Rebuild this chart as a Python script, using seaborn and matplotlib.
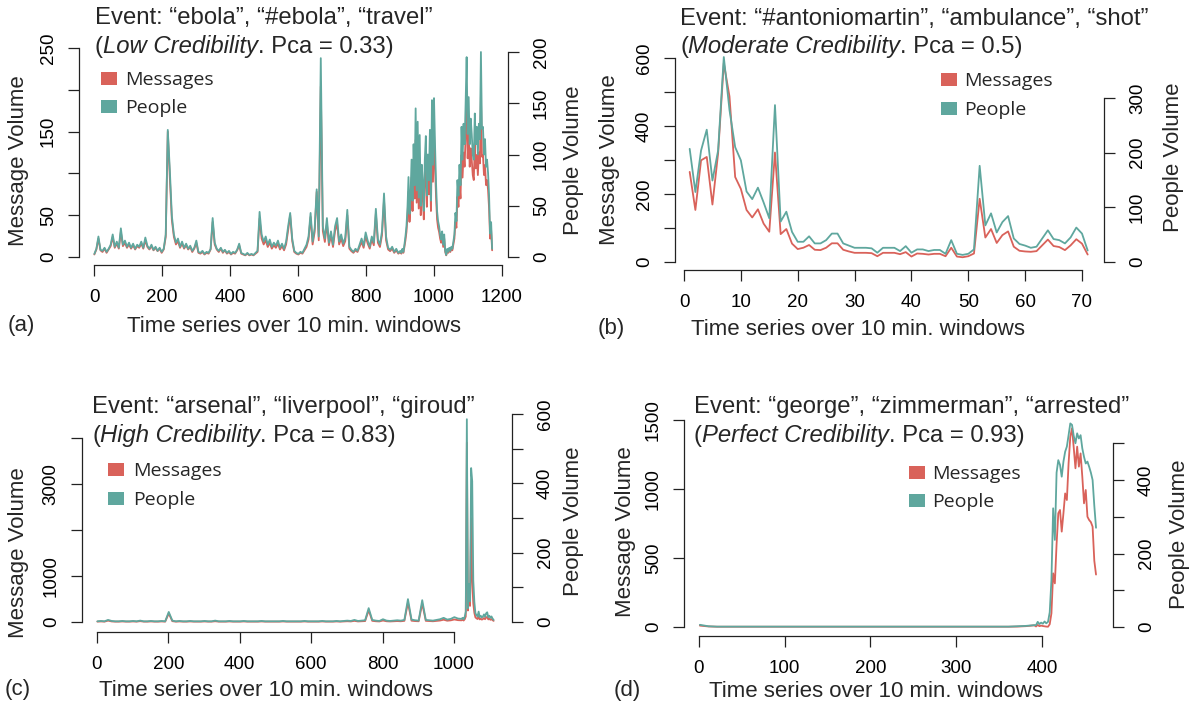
import numpy as np
import matplotlib
matplotlib.use("Agg")
import matplotlib.pyplot as plt
import seaborn as sns
from matplotlib.patches import Rectangle

# ---------------- data ----------------
series_labels = ["Messages", "People"]

# (a) ebola — one reading every 6 windows up to 901, then every 3 windows
a_time = list(range(1, 902, 6)) + list(range(904, 1172, 3))
a_people = [3, 8, 20, 7, 6, 9, 5, 8, 12, 22,
            10, 15, 9, 28, 12, 16, 10, 14, 9, 13,
            8, 12, 10, 15, 9, 19, 11, 8, 12, 7,
            10, 6, 9, 5, 8, 22, 124, 85, 40, 22,
            14, 18, 10, 15, 9, 13, 8, 11, 6, 9,
            16, 5, 4, 6, 3, 5, 4, 8, 38, 14,
            8, 6, 9, 5, 7, 4, 6, 3, 5, 4,
            7, 13, 4, 3, 2, 4, 2, 3, 2, 4,
            6, 44, 22, 15, 20, 12, 17, 10, 14, 11,
            16, 9, 13, 8, 15, 30, 43, 18, 6, 4,
            3, 5, 4, 8, 12, 20, 43, 15, 28, 66,
            20, 194, 30, 18, 38, 14, 25, 12, 30, 38,
            15, 22, 13, 19, 46, 10, 7, 5, 8, 6,
            12, 18, 11, 24, 16, 10, 20, 14, 47, 17,
            12, 25, 62, 20, 9, 7, 10, 5, 8, 4,
            6,
            4, 8, 5, 12, 20, 30, 48, 78, 42, 60,
            95, 55, 110, 70, 145, 65, 132, 58, 119, 50,
            90, 72, 45, 95, 118, 60, 100, 75, 124, 55,
            153, 90, 155, 110, 72, 45, 35, 30, 22, 17,
            25, 12, 22, 6, 2, 8, 5, 9, 6, 10,
            8, 15, 22, 43, 35, 75, 60, 90, 70, 127,
            95, 130, 110, 150, 195, 120, 156, 110, 135, 120,
            100, 95, 140, 110, 127, 100, 130, 115, 200, 125,
            127, 100, 115, 88, 95, 82, 60, 23, 34, 8]
a_messages = [3, 9, 22, 8, 6, 10, 5, 9, 13, 24,
              11, 16, 10, 30, 13, 17, 11, 15, 10, 14,
              9, 13, 11, 16, 10, 20, 12, 9, 13, 8,
              11, 7, 10, 5, 9, 24, 150, 95, 44, 24,
              15, 19, 11, 16, 10, 14, 9, 12, 6, 10,
              17, 5, 4, 6, 3, 5, 4, 9, 42, 15,
              9, 6, 10, 5, 8, 4, 6, 3, 5, 4,
              8, 14, 4, 3, 2, 4, 2, 3, 2, 4,
              6, 46, 22, 15, 20, 12, 17, 10, 14, 11,
              16, 9, 13, 8, 15, 32, 50, 19, 6, 4,
              3, 5, 4, 8, 12, 21, 48, 15, 30, 78,
              20, 204, 31, 18, 40, 14, 26, 12, 31, 40,
              15, 22, 13, 19, 50, 10, 7, 5, 8, 6,
              12, 18, 11, 25, 16, 10, 21, 14, 52, 17,
              12, 26, 68, 20, 9, 7, 10, 5, 8, 4,
              6,
              4, 8, 5, 12, 20, 30, 48, 78, 42, 60,
              95, 55, 110, 70, 140, 65, 128, 58, 115, 50,
              90, 72, 45, 95, 115, 60, 100, 75, 120, 55,
              148, 90, 150, 108, 72, 45, 35, 30, 22, 17,
              25, 12, 22, 6, 2, 8, 5, 9, 6, 10,
              8, 15, 22, 42, 35, 72, 60, 88, 70, 122,
              95, 125, 108, 145, 190, 118, 150, 108, 130, 116,
              98, 92, 135, 106, 122, 98, 125, 112, 195, 120,
              122, 98, 110, 86, 92, 80, 58, 22, 32, 8]

# (b) antoniomartin — every window
b_time = list(range(1, 72))
b_messages = [265, 153, 299, 309, 169, 320, 585, 487, 250, 215,
              153, 131, 155, 113, 89, 322, 82, 97, 54, 38,
              42, 50, 36, 35, 42, 55, 55, 36, 31, 27,
              27, 27, 26, 17, 27, 27, 27, 23, 29, 16,
              25, 24, 22, 24, 24, 17, 42, 16, 14, 17,
              25, 186, 72, 97, 56, 79, 90, 45, 33, 31,
              30, 32, 49, 66, 47, 44, 35, 49, 67, 54, 22]
b_people = [207, 128, 204, 242, 149, 204, 375, 278, 210, 186,
            129, 115, 136, 109, 80, 287, 74, 92, 55, 37,
            37, 47, 34, 34, 40, 52, 52, 34, 30, 26,
            26, 26, 25, 17, 26, 26, 26, 20, 29, 17,
            23, 23, 20, 22, 22, 15, 40, 15, 13, 15,
            23, 176, 67, 89, 54, 73, 84, 43, 33, 30,
            26, 28, 43, 58, 42, 40, 34, 45, 63, 52, 21]

# (c) arsenal — every 10 windows, then every 3 windows around the event
c_time = list(range(1, 1021, 10)) + list(range(1021, 1112, 3))
c_people = [2, 3, 2, 6, 3, 2, 2, 3, 2, 2,
            3, 2, 4, 2, 2, 3, 2, 2, 3, 2,
            29, 4, 2, 3, 2, 2, 3, 2, 2, 2,
            3, 2, 2, 4, 2, 2, 2, 3, 2, 2,
            2, 3, 2, 2, 2, 2, 3, 2, 2, 2,
            2, 2, 3, 2, 2, 2, 2, 2, 3, 2,
            2, 2, 2, 3, 2, 2, 2, 3, 2, 3,
            4, 3, 6, 3, 4, 5, 40, 6, 4, 3,
            8, 4, 3, 4, 5, 4, 6, 66, 7, 5,
            4, 63, 6, 5, 4, 6, 8, 12, 7, 9, 14, 10,
            9, 12, 8, 15, 30, 585, 40, 110, 60, 444,
            406, 120, 58, 25, 20, 16, 30, 14, 18, 13,
            16, 22, 15, 25, 28, 14, 18, 12, 16, 10, 6]
c_messages = [8, 12, 8, 30, 12, 8, 8, 12, 8, 8,
              12, 8, 18, 8, 8, 12, 8, 8, 12, 8,
              185, 18, 8, 12, 8, 8, 12, 8, 8, 8,
              12, 8, 8, 16, 8, 8, 8, 12, 8, 8,
              8, 12, 8, 8, 8, 8, 12, 8, 8, 8,
              8, 8, 12, 8, 8, 8, 8, 8, 12, 8,
              8, 8, 8, 12, 8, 8, 8, 12, 8, 12,
              16, 12, 25, 12, 16, 20, 255, 25, 16, 12,
              32, 16, 12, 16, 20, 16, 25, 420, 28, 20,
              16, 400, 25, 20, 16, 25, 32, 50, 28, 36, 55, 40,
              36, 48, 32, 60, 120, 3900, 250, 600, 350, 2260,
              870, 400, 200, 100, 80, 64, 120, 56, 72, 52,
              64, 88, 60, 100, 110, 56, 72, 48, 64, 40, 24]

# (d) zimmerman — every 10 windows, then every 2 windows around the event
d_time = list(range(1, 392, 10)) + list(range(393, 464, 2))
d_people = [6, 2, 1, 1, 1, 1, 1, 1, 1, 1,
            1, 1, 1, 1, 1, 1, 1, 1, 1, 1,
            1, 1, 1, 1, 1, 1, 1, 1, 1, 1,
            1, 1, 1, 1, 1, 1, 1, 2, 3, 5,
            5, 14, 8, 12, 9, 15, 10, 14, 40, 128,
            323, 237, 420, 454, 441, 409, 450, 477, 491, 522,
            554, 550, 520, 500, 527, 513, 522, 486, 463, 445,
            450, 436, 420, 400, 330, 270]
d_messages = [10, 4, 2, 2, 2, 2, 2, 2, 2, 2,
              2, 2, 2, 2, 2, 2, 2, 2, 2, 2,
              2, 2, 2, 2, 2, 2, 2, 2, 2, 2,
              2, 2, 2, 2, 2, 2, 2, 3, 6, 12,
              4, 15, 6, 10, 7, 5, 3, 2, 20, 99,
              389, 316, 600, 824, 848, 691, 824, 968, 920, 1186,
              1379, 1440, 1300, 1150, 1307, 1162, 1258, 1089, 896, 993,
              799, 775, 760, 727, 480, 380]

# ---------------- style ----------------
W, H = 1196, 706
RED = "#D9625A"
TEAL = "#5FA79E"
INK = "#222222"
LW = 1.3
TITLE_FS = 17.2

sns.set_theme(style="white")
plt.rcParams['font.family'] = ['Liberation Sans', 'DejaVu Sans']

fig = plt.figure(figsize=(W / 100, H / 100), dpi=100)
fig.patch.set_facecolor("white")
renderer = fig.canvas.get_renderer()


def fxy(x, y):
    return x / W, 1 - y / H


def panel(L, R, T, B, xcal, lcal, rcal, xticks, lticks, llabs, rticks, rlabs,
          t, msgs, ppl):
    ax = fig.add_axes([L / W, 1 - B / H, (R - L) / W, (B - T) / H])
    sns.lineplot(x=t, y=msgs, ax=ax, color=RED, linewidth=LW)
    ax2 = ax.twinx()
    sns.lineplot(x=t, y=ppl, ax=ax2, color=TEAL, linewidth=LW)

    (v0, p0), (v1, p1) = xcal
    s = (p1 - p0) / (v1 - v0)
    ax.set_xlim(v0 - (p0 - L) / s, v0 + (R - p0) / s)

    def ylim(cal):
        (z, pz), (V, pV) = cal
        sc = (pz - pV) / (V - z)
        return (z - (B - pz) / sc, z + (pz - T) / sc)

    ax.set_ylim(*ylim(lcal))
    ax2.set_ylim(*ylim(rcal))

    ax.set_xticks(xticks, labels=[str(v) for v in xticks])
    ax.set_yticks(lticks, labels=llabs)
    ax2.set_yticks(rticks, labels=rlabs)
    for a in (ax, ax2):
        a.set_xlabel("")
        a.set_ylabel("")
        a.grid(False)
        for sp in a.spines.values():
            sp.set_visible(False)
            sp.set_color(INK)
            sp.set_linewidth(0.9)
    ax.spines["left"].set_visible(True)
    ax.spines["bottom"].set_visible(True)
    ax2.spines["right"].set_visible(True)
    ax.spines["left"].set_bounds(lticks[0], lticks[-1])
    ax.spines["bottom"].set_bounds(xticks[0], xticks[-1])
    ax2.spines["right"].set_bounds(rticks[0], rticks[-1])

    ax.tick_params(axis="x", bottom=True, direction="out", length=8, width=0.9,
                   colors=INK, labelcolor="black", labelsize=13.5, pad=9)
    ax.tick_params(axis="y", left=True, direction="out", length=8, width=0.9,
                   colors=INK, labelcolor="black", labelsize=13.5, pad=8)
    ax2.tick_params(axis="y", right=True, direction="out", length=8, width=0.9,
                    colors=INK, labelcolor="black", labelsize=13.5, pad=10)
    for lbl in ax.get_yticklabels() + ax2.get_yticklabels():
        lbl.set_rotation(90)
        lbl.set_va("center")
    return ax, ax2


def title(x, y1, y2, line1, italic, rest):
    fig.text(*fxy(x, y1), line1, fontsize=TITLE_FS, va="baseline", ha="left")
    cx = x
    for txt, style in (("(", "normal"), (italic, "italic"), (rest, "normal")):
        tt = fig.text(*fxy(cx, y2), txt, fontsize=TITLE_FS, va="baseline",
                      ha="left", style=style)
        cx += tt.get_window_extent(renderer).width


def legend(x, ytop, dy, tx):
    for k, (lab, col) in enumerate(zip(series_labels, [RED, TEAL])):
        yt = ytop + k * dy
        fig.add_artist(Rectangle(fxy(x, yt + 13), 16 / W, 13 / H,
                                 transform=fig.transFigure, color=col, lw=0))
        fig.text(*fxy(tx, yt + 13), lab, fontsize=14, va="baseline", ha="left",
                 family=["Open Sans", "DejaVu Sans"])


def labels(msg_xy, ppl_xy, xl_xy, tag_xy, tag):
    fig.text(*fxy(*msg_xy), "Message Volume", rotation=90, fontsize=16,
             ha="center", va="center")
    fig.text(*fxy(*ppl_xy), "People Volume", rotation=90, fontsize=16,
             ha="center", va="center")
    fig.text(*fxy(*xl_xy), "Time series over 10 min. windows", fontsize=16,
             ha="center", va="baseline")
    fig.text(*fxy(*tag_xy), tag, fontsize=16, ha="left", va="baseline")


# (a)
panel(79, 508, 40, 265, ((0, 94), (1200, 502)), ((0, 257), (250, 48)),
      ((0, 257), (200, 52)), list(range(0, 1201, 200)),
      [0, 50, 100, 150, 200, 250], ["0", "50", "", "150", "", "250"],
      [0, 50, 100, 150, 200], ["0", "50", "100", "150", "200"],
      a_time, a_messages, a_people)
title(95, 24, 53, "Event: \u201cebola\u201d, \u201c#ebola\u201d, \u201ctravel\u201d",
      "Low Credibility", ". Pca = 0.33)")
legend(101, 72, 28, 125)
labels((19, 161), (573, 160), (294, 332), (8, 331), "(a)")

# (b)
panel(675, 1104, 40, 270, ((0, 684), (70, 1082)), ((0, 262), (600, 58)),
      ((0, 262), (300, 98)), list(range(0, 71, 10)),
      [0, 100, 200, 300, 400, 500, 600], ["0", "", "200", "", "400", "", "600"],
      [0, 100, 200, 300], ["0", "100", "200", "300"],
      b_time, b_messages, b_people)
title(680, 25, 53, "Event: \u201c#antoniomartin\u201d, \u201cambulance\u201d, \u201cshot\u201d",
      "Moderate Credibility", ". Pca = 0.5)")
legend(941, 73, 29, 964)
labels((610, 160), (1173, 157), (858, 335), (598, 334), "(b)")

# (c)
panel(82, 512, 400, 632, ((0, 97), (1000, 454)), ((0, 622), (3000, 484)),
      ((0, 622), (600, 414)), list(range(0, 1001, 200)),
      [0, 1000, 2000, 3000, 4000], ["0", "1000", "", "3000", ""],
      [0, 100, 200, 300, 400, 500, 600], ["0", "", "200", "", "400", "", "600"],
      c_time, c_messages, c_people)
title(92, 413, 442, "Event: \u201carsenal\u201d, \u201cliverpool\u201d, \u201cgiroud\u201d",
      "High Credibility", ". Pca = 0.83)")
legend(108, 463, 29, 133)
labels((19, 553), (573, 521), (266, 696), (5, 695), "(c)")

# (d)
panel(684, 1113, 400, 636, ((0, 699), (400, 1042)), ((0, 627), (1500, 420)),
      ((0, 627), (400, 480)), list(range(0, 401, 100)),
      [0, 500, 1000, 1500], ["0", "500", "1000", "1500"],
      [0, 100, 200, 300, 400, 500], ["0", "", "200", "", "400", ""],
      d_time, d_messages, d_people)
title(694, 413, 442, "Event: \u201cgeorge\u201d, \u201czimmerman\u201d, \u201carrested\u201d",
      "Perfect Credibility", ". Pca = 0.93)")
legend(909, 466, 28, 932)
labels((626, 532), (1179, 534), (876, 697), (614, 696), "(d)")

fig.savefig("out.png", dpi=100, facecolor="white")
